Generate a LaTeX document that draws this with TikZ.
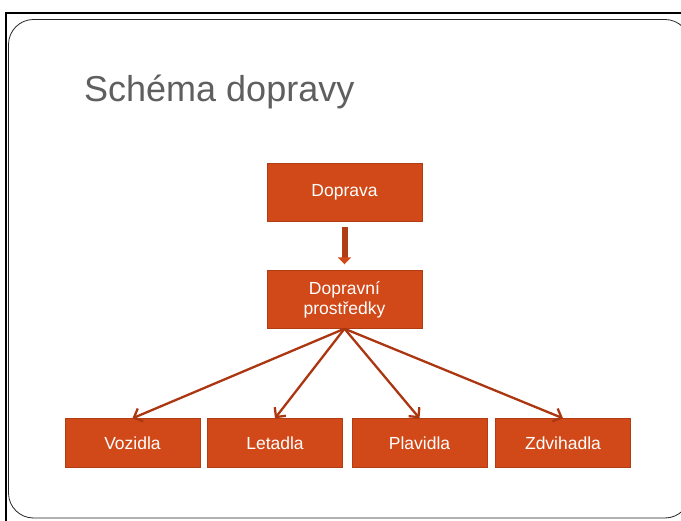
\documentclass[tikz,border=0pt]{standalone}
\usepackage{fontspec}
\setmainfont{Liberation Sans}
\usetikzlibrary{arrows.meta}
\definecolor{boxfill}{RGB}{209,73,24}
\definecolor{boxline}{RGB}{178,60,20}
\definecolor{arrowcol}{RGB}{172,54,16}
\definecolor{titlegray}{RGB}{95,95,95}

\begin{document}
\begin{tikzpicture}[x=1pt,y=-1pt,
  box/.style={draw=boxline, fill=boxfill, text=white, inner sep=0pt, align=center,
    font=\fontsize{17.5}{20}\selectfont},
  topbox/.style={box, minimum width=155pt, minimum height=58pt},
  leafbox/.style={box, minimum width=135pt, minimum height=49pt},
  link/.style={draw=arrowcol, line width=2.3pt, -{Straight Barb[length=7pt,width=14pt]}}]
\useasboundingbox (0,0) rectangle (681,521);
\clip (0,0) rectangle (681,521);
\fill[white] (0,0) rectangle (681,521);
\draw[line width=2pt] (5.5,521) -- (5.5,13.5) -- (681,13.5);
\draw[line width=0.8pt, draw=black!85, rounded corners=25pt] (8.5,19.5) rectangle (690,518);
\node (title) at (84,102) [anchor=base west, text=titlegray, inner sep=0pt,
  font=\fontsize{36}{40}\selectfont] {Schéma dopravy};
\node (doprava) at (344.5,192) [topbox] {Doprava};
\node (prostredky) at (344.5,299.5) [topbox] {Dopravní\\prostředky};
\node (vozidla) at (132.5,443) [leafbox] {Vozidla};
\node (letadla) at (275,443) [leafbox] {Letadla};
\node (plavidla) at (419.5,443) [leafbox] {Plavidla};
\node (zdvihadla) at (563,443) [leafbox] {Zdvihadla};
\draw[draw=boxline, line width=6pt, shorten <=6pt, shorten >=6pt,
  -{Triangle[length=7pt,width=13pt,color=boxfill]}]
(doprava.south) to (prostredky.north);
\draw[link] (prostredky.south) to (vozidla.north);
\draw[link] (prostredky.south) to (letadla.north);
\draw[link] (prostredky.south) to (plavidla.north);
\draw[link] (prostredky.south) to (zdvihadla.north);
\end{tikzpicture}
\end{document}
